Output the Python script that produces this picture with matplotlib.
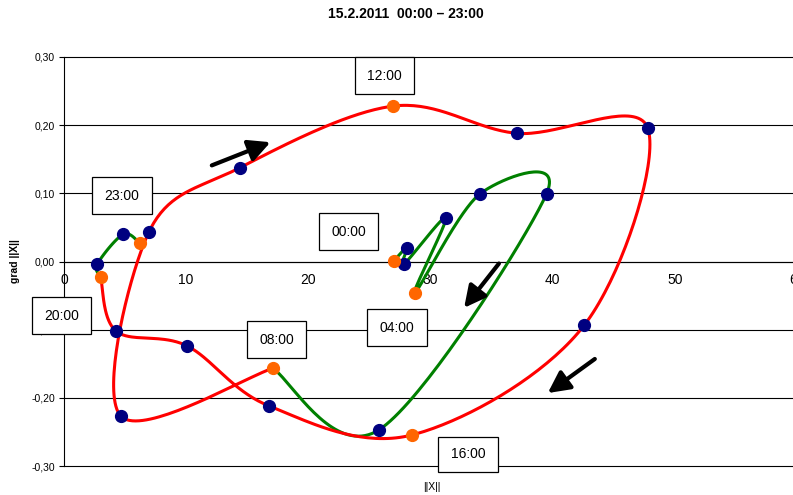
import numpy as np
import matplotlib
matplotlib.use('Agg')
import matplotlib.pyplot as plt
from matplotlib.patches import Rectangle

plt.rcParams['font.family'] = ['Liberation Sans', 'DejaVu Sans']

# ---- data ----
hours = ['00:00', '01:00', '02:00', '03:00', '04:00', '05:00', '06:00', '07:00',
         '08:00', '09:00', '10:00', '11:00', '12:00', '13:00', '14:00', '15:00',
         '16:00', '17:00', '18:00', '19:00', '20:00', '21:00', '22:00', '23:00']
norm_x = [27.0, 28.07, 27.82, 31.26, 28.72, 34.07, 39.5, 25.78,
          17.08, 4.64, 6.96, 14.40, 26.95, 37.1, 47.79, 42.58,
          28.48, 16.8, 10.04, 4.28, 3.0, 2.73, 4.85, 6.22]
grad_y = [0.001, 0.020, -0.004, 0.064, -0.046, 0.0995, 0.0995, -0.247,
          -0.1567, -0.2266, 0.0437, 0.1376, 0.228, 0.188, 0.1954, -0.0936,
          -0.2545, -0.212, -0.1235, -0.1024, -0.0223, -0.0037, 0.0399, 0.0267]
highlight_hours = ['00:00', '04:00', '08:00', '12:00', '16:00', '20:00', '23:00']
segments = [('00:00', '08:00', '#008000'),
            ('08:00', '20:00', '#FF0000'),
            ('20:00', '23:00', '#008000')]
box_labels = ['12:00', '23:00', '00:00', '20:00', '08:00', '04:00', '16:00']
y_ticks = [-0.30, -0.20, -0.10, 0.0, 0.10, 0.20, 0.30]
x_ticks = [0, 10, 20, 30, 40, 50, 60]
title = '15.2.2011  00:00 \u2013 23:00'

# ---- layout ----
W, H = 793, 495
fig = plt.figure(figsize=(W / 100, H / 100), dpi=100)
ax_left, ax_right, ax_top, ax_bot = 64, 797, 57, 466
ax = fig.add_axes([ax_left / W, 1 - ax_bot / H, (ax_right - ax_left) / W, (ax_bot - ax_top) / H])
ax.set_xlim(0, 60)
ax.set_ylim(-0.30, 0.30)

ax.set_yticks(y_ticks)
ax.set_yticklabels([('%.2f' % v).replace('.', ',') for v in y_ticks], fontsize=7.5)
ax.set_xticks(x_ticks)
ax.set_xticklabels([str(v) for v in x_ticks], fontsize=7.5)
for v in y_ticks:
    ax.axhline(v, color='black', lw=0.8, clip_on=False, zorder=1)
ax.spines['right'].set_visible(False)
ax.spines['top'].set_visible(False)
ax.spines['bottom'].set_position(('data', 0))
for s in ['left', 'bottom']:
    ax.spines[s].set_linewidth(0.8)
ax.tick_params(axis='y', direction='out', length=3.5, width=0.8, pad=3)
ax.tick_params(axis='x', length=0, pad=8)
ax.set_ylabel('grad ||X||', fontsize=7.5, fontweight='bold')
ax.yaxis.set_label_coords((20 - ax_left) / (ax_right - ax_left), 0.5)


def smooth(P, n=40):
    ext = np.vstack([P[0], P, P[-1]])
    out = []
    for i in range(len(P) - 1):
        p0, p1, p2, p3 = ext[i], ext[i + 1], ext[i + 2], ext[i + 3]
        c1 = p1 + (p2 - p0) / 6.0
        c2 = p2 - (p3 - p1) / 6.0
        t = np.linspace(0, 1, n)[:, None]
        b = (1 - t) ** 3 * p1 + 3 * (1 - t) ** 2 * t * c1 + 3 * (1 - t) * t ** 2 * c2 + t ** 3 * p2
        out.append(b if i == 0 else b[1:])
    return np.vstack(out)


xs = np.array(norm_x)
ys = np.array(grad_y)
for start, end, col in segments:
    i0, i1 = hours.index(start), hours.index(end)
    pts = np.column_stack([xs[i0:i1 + 1], ys[i0:i1 + 1]])
    disp = ax.transData.transform(pts)
    curve = ax.transData.inverted().transform(smooth(disp))
    ax.plot(curve[:, 0], curve[:, 1], color=col, lw=2.2, solid_capstyle='round', zorder=3)

is_hl = np.array([h in highlight_hours for h in hours])
ax.plot(xs[~is_hl], ys[~is_hl], 'o', color='#000080', ms=8.5, mec='#000080', zorder=5, ls='none')
ax.plot(xs[is_hl], ys[is_hl], 'o', color='#FF6600', ms=8.5, mec='#FF6600', zorder=5, ls='none')

# direction arrows (annotation positions)
arrow_tails = [(12.1, 0.141), (35.6, -0.003), (43.45, -0.143)]
arrow_tips = [(16.9, 0.175), (32.75, -0.068), (39.6, -0.193)]
for tail, tip in zip(arrow_tails, arrow_tips):
    ax.annotate('', xy=tip, xytext=tail,
                arrowprops=dict(arrowstyle='-|>,head_length=0.65,head_width=0.33',
                                mutation_scale=20, lw=3, color='black',
                                shrinkA=0, shrinkB=0), zorder=6)

# time label boxes (pixel positions: left, top, right, bottom)
box_px = [(355, 57, 414, 94), (92, 177, 152, 214), (319, 213, 378, 250),
          (32, 297, 91, 334), (247, 321, 306, 358), (367, 309, 427, 346),
          (438, 437, 498, 472)]
for lab, (l, t, r, b) in zip(box_labels, box_px):
    fig.add_artist(Rectangle((l / W, 1 - b / H), (r - l) / W, (b - t) / H,
                             transform=fig.transFigure, facecolor='white',
                             edgecolor='black', lw=0.9, zorder=10))
    fig.text((l + r) / 2 / W, 1 - (t + b) / 2 / H, lab, ha='center', va='center',
             fontsize=10, zorder=11)

fig.text(406 / W, 1 - 14 / H, title, ha='center', va='center', fontsize=10, fontweight='bold')
fig.text(432 / W, 1 - 487 / H, '||X||', ha='center', va='center', fontsize=7.5)

fig.savefig('out.png', dpi=100)
